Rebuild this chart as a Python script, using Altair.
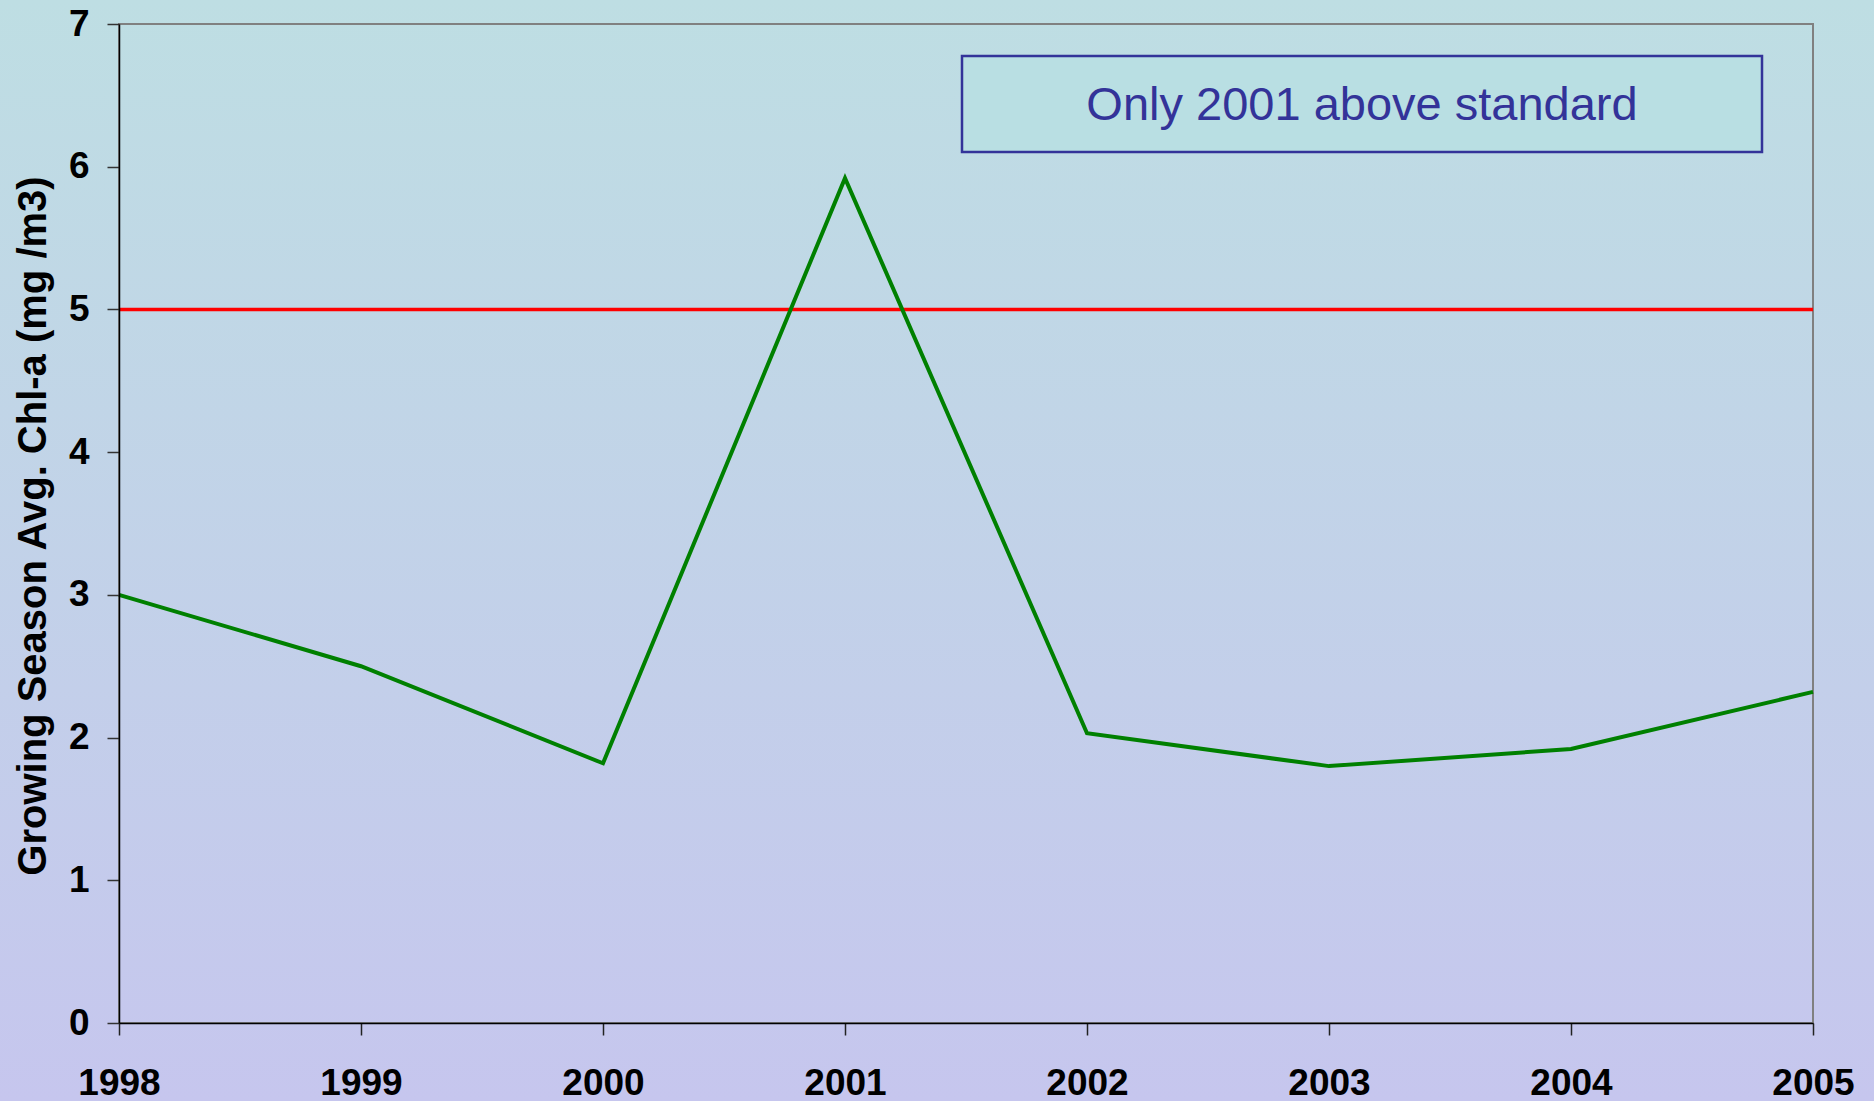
import altair as alt
import pandas as pd

years = [1998, 1999, 2000, 2001, 2002, 2003, 2004, 2005]
chl_a = [3.00, 2.50, 1.82, 5.92, 2.03, 1.80, 1.92, 2.32]
standard = [5.0]
y_ticks = [0, 1, 2, 3, 4, 5, 6, 7]
note = ["Only 2001 above standard"]

FONT = "Liberation Sans, Arial, sans-serif"
W, H = 1694, 999

df = pd.DataFrame({"year": years, "chl": chl_a})
std_df = pd.DataFrame({"std": standard})
note_df = pd.DataFrame({"label": note})

gradient = alt.Gradient(
    gradient="linear",
    stops=[alt.GradientStop(color="#BEDEE3", offset=0),
           alt.GradientStop(color="#C6C6EE", offset=1)],
    x1=0, x2=0, y1=0, y2=1,
)

background = alt.Chart(note_df).mark_rect(color=gradient, clip=False).encode(
    x=alt.value(-119), x2=alt.value(W + 61),
    y=alt.value(-24), y2=alt.value(H + 78),
)

border = alt.Chart(note_df).mark_rect(
    fillOpacity=0, stroke="#808080", strokeWidth=2, clip=False
).encode(
    x=alt.value(0), x2=alt.value(W), y=alt.value(0), y2=alt.value(H)
)

x_enc = alt.X(
    "year:Q",
    scale=alt.Scale(domain=[1998, 2005], nice=False, zero=False),
    axis=alt.Axis(
        values=years, format="d", title=None, grid=False, zindex=2,
        labelFont=FONT, labelFontSize=37, labelFontWeight="bold", labelColor="black",
        labelFlush=False, labelBound=False, labelOverlap=False, labelPadding=30,
        tickSize=12, tickColor="#222222", tickWidth=1.5,
        domainColor="black", domainWidth=1.5,
    ),
)
y_enc = alt.Y(
    "chl:Q",
    scale=alt.Scale(domain=[0, 7], nice=False),
    axis=alt.Axis(
        values=y_ticks, format="d", title="Growing Season Avg. Chl-a (mg /m3)", grid=False, zindex=2,
        labelFont=FONT, labelFontSize=37, labelFontWeight="bold", labelColor="black",
        labelPadding=18, labelFlush=False, labelBound=False,
        tickSize=12, tickColor="#333333", tickWidth=1.5,
        domainColor="black", domainWidth=1.5,
        titleFont=FONT, titleFontSize=40, titleFontWeight="bold", titleColor="black",
        titleX=-86, titleY=H / 2 + 2, titleAngle=-90, titleBaseline="middle", titleAlign="center",
    ),
)

line = alt.Chart(df).mark_line(color="#008000", strokeWidth=4).encode(x=x_enc, y=y_enc)

std_rule = alt.Chart(std_df).mark_rule(color="#FF0000", strokeWidth=3.5).encode(
    y=alt.Y("std:Q", scale=alt.Scale(domain=[0, 7], nice=False)),
)

box = alt.Chart(note_df).mark_rect(
    fill="#B9DFE3", stroke="#333399", strokeWidth=2.5
).encode(
    x=alt.value(843), x2=alt.value(1643), y=alt.value(32), y2=alt.value(128)
)

box_text = alt.Chart(note_df).mark_text(
    font=FONT, fontSize=47, color="#333399", align="center", baseline="middle"
).encode(
    text="label:N", x=alt.value(1243), y=alt.value(82)
)

chart = alt.layer(background, border, std_rule, line, box, box_text).properties(
    width=W, height=H,
    autosize=alt.AutoSizeParams(type="none"),
    padding={"left": 119, "top": 24, "right": 61, "bottom": 78},
    background="#C2D2E8",
).configure_view(
    stroke=None,
)

chart.save("out.html", embed_options={"renderer": "svg", "actions": False})
